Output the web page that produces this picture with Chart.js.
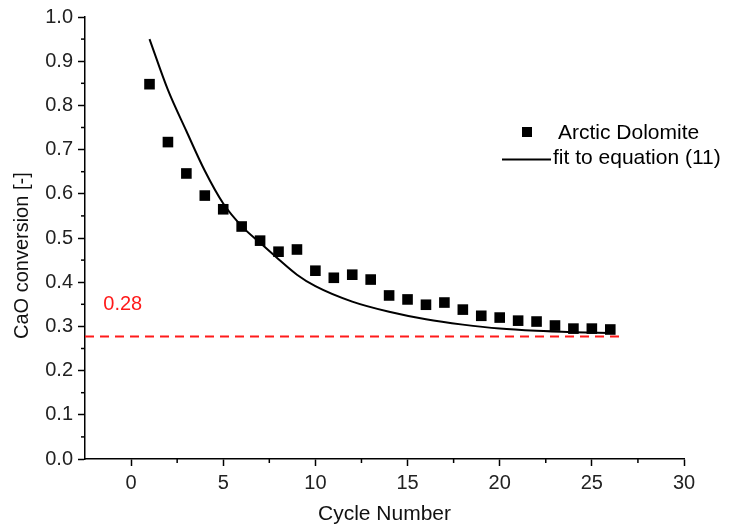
<!DOCTYPE html>
<html>
<head>
<meta charset="utf-8">
<script src="https://cdn.jsdelivr.net/npm/chart.js@4.4.1/dist/chart.umd.min.js"></script>
<style>
  html, body { margin: 0; padding: 0; background: #fff; }
  #wrap { width: 729px; height: 529px; }
</style>
</head>
<body>
<div id="wrap"><canvas id="c" width="729" height="529"></canvas></div>
<script>
// ---- data ----
const cycles = [1,2,3,4,5,6,7,8,9,10,11,12,13,14,15,16,17,18,19,20,21,22,23,24,25,26];
const conversion = [0.848,0.717,0.646,0.596,0.565,0.526,0.494,0.469,0.474,0.426,0.410,0.417,0.406,
                    0.370,0.361,0.349,0.354,0.338,0.324,0.320,0.313,0.311,0.302,0.295,0.295,0.293];
const fitCycles = [1,2,3,4,5,6,7,8,9,10,12,14,16,18,20,22,24,26];
const fitValues = [0.950,0.835,0.742,0.652,0.578,0.527,0.489,0.452,0.417,0.391,0.356,0.333,0.316,0.304,0.295,0.290,0.287,0.285];
const xTicks = [0,5,10,15,20,25,30];
const yTicks = [0,0.1,0.2,0.3,0.4,0.5,0.6,0.7,0.8,0.9,1.0];
const xMinor = [2.5,7.5,12.5,17.5,22.5,27.5];
const yMinor = [0.05,0.15,0.25,0.35,0.45,0.55,0.65,0.75,0.85,0.95];
const refLevel = 0.277;
const refLabel = '0.28';
const refSpan = [-2.5, 26.5];
const seriesNames = ['Arctic Dolomite', 'fit to equation (11)'];
const xTitle = 'Cycle Number';
const yTitle = 'CaO conversion [-]';

const FONT = 'Liberation Sans, Arial, Helvetica, sans-serif';

const extras = {
  id: 'extras',
  afterDatasetsDraw(chart) {
    const ctx = chart.ctx;
    const xs = chart.scales.x, ys = chart.scales.y;
    ctx.save();
    // minor ticks
    ctx.strokeStyle = '#000';
    ctx.lineWidth = 1.5;
    xMinor.forEach(v => {
      const px = xs.getPixelForValue(v);
      ctx.beginPath(); ctx.moveTo(px, ys.bottom); ctx.lineTo(px, ys.bottom + 4); ctx.stroke();
    });
    yMinor.forEach(v => {
      const py = ys.getPixelForValue(v);
      ctx.beginPath(); ctx.moveTo(xs.left, py); ctx.lineTo(xs.left - 4, py); ctx.stroke();
    });
    // y axis title
    ctx.save();
    ctx.fillStyle = '#111';
    ctx.font = '20px ' + FONT;
    ctx.textAlign = 'center';
    ctx.textBaseline = 'middle';
    ctx.translate(22, ys.getPixelForValue(0.46));
    ctx.rotate(-Math.PI / 2);
    ctx.fillText(yTitle, 0, 0);
    ctx.restore();
    // reference label
    ctx.fillStyle = '#ff1a1a';
    ctx.font = '20px ' + FONT;
    ctx.textAlign = 'center';
    ctx.textBaseline = 'middle';
    ctx.fillText(refLabel, xs.getPixelForValue(-0.45), ys.getPixelForValue(0.35));
    // legend
    ctx.fillStyle = '#000';
    ctx.font = '21px ' + FONT;
    ctx.textAlign = 'left';
    ctx.fillRect(522, 127, 10, 10);
    ctx.fillText(seriesNames[0], 558, 133);
    ctx.lineWidth = 2;
    ctx.beginPath(); ctx.moveTo(502, 159.5); ctx.lineTo(551, 159.5); ctx.stroke();
    ctx.fillText(seriesNames[1], 553, 158);
    ctx.restore();
  }
};

new Chart(document.getElementById('c'), {
  type: 'scatter',
  data: {
    datasets: [
      {
        label: seriesNames[0],
        data: cycles.map((c, i) => ({x: c, y: conversion[i]})),
        pointStyle: 'rect',
        pointRadius: 7.5,
        backgroundColor: '#000',
        borderColor: '#000',
        borderWidth: 0,
        showLine: false
      },
      {
        label: seriesNames[1],
        data: fitCycles.map((c, i) => ({x: c, y: fitValues[i]})),
        showLine: true,
        borderColor: '#000',
        borderWidth: 2,
        pointRadius: 0,
        cubicInterpolationMode: 'monotone'
      },
      {
        label: refLabel,
        data: refSpan.map(x => ({x: x, y: refLevel})),
        showLine: true,
        borderColor: '#ff1a1a',
        borderWidth: 2,
        borderDash: [9, 6],
        pointRadius: 0
      }
    ]
  },
  options: {
    responsive: false,
    animation: false,
    devicePixelRatio: 1,
    layout: { padding: { left: 0, right: 45, top: 10, bottom: 0 } },
    plugins: { legend: { display: false }, tooltip: { enabled: false } },
    scales: {
      x: {
        type: 'linear',
        min: -2.5, max: 30,
        afterBuildTicks: s => { s.ticks = xTicks.map(v => ({value: v})); },
        afterFit: s => { s.height = 70; },
        grid: { drawOnChartArea: false, drawTicks: true, tickLength: 7, tickColor: '#000', tickWidth: 1.5 },
        border: { display: true, color: '#000', width: 1.5 },
        ticks: { color: '#222', font: { family: FONT, size: 20 }, padding: 5, maxRotation: 0,
                 callback: v => String(v) },
        title: { display: true, text: xTitle, color: '#111', font: { family: FONT, size: 21 },
                 padding: { top: 0, bottom: 2 } }
      },
      y: {
        type: 'linear',
        min: 0, max: 1,
        afterBuildTicks: s => { s.ticks = yTicks.map(v => ({value: v})); },
        afterFit: s => { s.width = 85; },
        grid: { drawOnChartArea: false, drawTicks: true, tickLength: 7, tickColor: '#000', tickWidth: 1.5 },
        border: { display: true, color: '#000', width: 1.5 },
        ticks: { color: '#222', font: { family: FONT, size: 20 }, padding: 5,
                 callback: v => Number(v).toFixed(1) },
        title: { display: false, text: yTitle }
      }
    }
  },
  plugins: [extras]
});
</script>
</body>
</html>
